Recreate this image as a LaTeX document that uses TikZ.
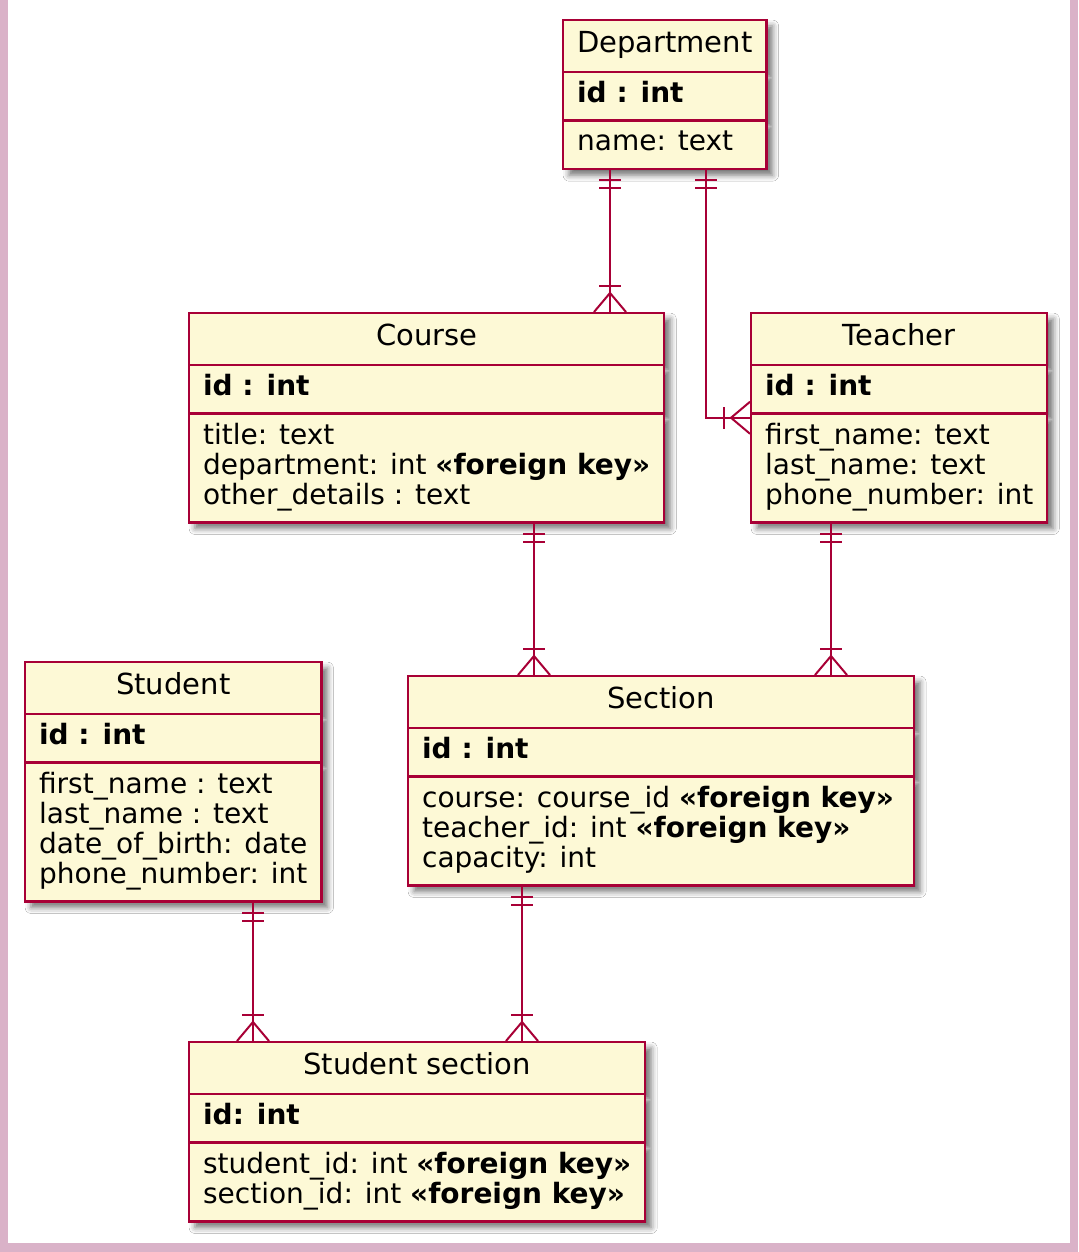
\documentclass[tikz,border=0pt]{standalone}
\usepackage{fontspec}
\setmainfont{DejaVu Sans}
\usetikzlibrary{shapes.multipart,shadows.blur,decorations.markings}

\definecolor{entityfill}{HTML}{FDF9D6}
\definecolor{entityline}{HTML}{A80036}
\definecolor{pageframe}{RGB}{218,178,200}

\newcommand{\entname}[1]{{\fontsize{14.5}{16.5}\selectfont\strut #1}}

\tikzset{
	entity/.style={rectangle split, rectangle split parts=3,
		rectangle split part align={center,left,left},
		draw=entityline, line width=1.1pt, fill=entityfill,
		anchor=north west, align=left, inner xsep=7pt, inner ysep=4.1pt,
		font={\fontsize{14}{15}\selectfont\lineskiplimit=-100pt\relax},
		blur shadow={shadow xshift=3pt, shadow yshift=-3pt, shadow blur radius=3pt, shadow opacity=55}},
	rel/.style={draw=entityline, line width=1pt},
	onlyone/.style={postaction={decorate, decoration={markings,
		mark=at position 5pt with {\draw[rel] (0,-5.5pt) -- (0,5.5pt);},
		mark=at position 9pt with {\draw[rel] (0,-5.5pt) -- (0,5.5pt);}}}},
	onemany/.style={postaction={decorate, decoration={markings,
		mark=at position 1 with {\draw[rel] (-13pt,-5.5pt) -- (-13pt,5.5pt);
			\draw[rel] (0,-8pt) -- (-9.5pt,0) -- (0,8pt);}}}}
}

\begin{document}
\begin{tikzpicture}[x=0.5pt, y=-0.5pt]
	\useasboundingbox (0,0) rectangle (1078,1252);
	\fill[pageframe] (0,0) rectangle (1078,1252);
	\fill[white] (8,0) rectangle (1070,1243);

	% tables
	\node[entity, minimum width=100pt] (department) at (562,19)
		{\entname{Department}
		\nodepart{two}\strut\textbf{id : int}
		\nodepart{three}\strut name: text};
	\node[entity, minimum width=236pt] (course) at (188,312)
		{\entname{Course}
		\nodepart{two}\strut\textbf{id : int}
		\nodepart{three}\strut title: text\\
		\strut department: int \textbf{«foreign key»}\\
		\strut other\_details : text};
	\node[entity, minimum width=148pt] (teacher) at (750,312)
		{\entname{Teacher}
		\nodepart{two}\strut\textbf{id : int}
		\nodepart{three}\strut first\_name: text\\
		\strut last\_name: text\\
		\strut phone\_number: int};
	\node[entity, minimum width=148pt] (student) at (24,661)
		{\entname{Student}
		\nodepart{two}\strut\textbf{id : int}
		\nodepart{three}\strut first\_name : text\\
		\strut last\_name : text\\
		\strut date\_of\_birth: date\\
		\strut phone\_number: int};
	\node[entity, minimum width=253pt] (section) at (407,675)
		{\entname{Section}
		\nodepart{two}\strut\textbf{id : int}
		\nodepart{three}\strut course: course\_id \textbf{«foreign key»}\\
		\strut teacher\_id: int \textbf{«foreign key»}\\
		\strut capacity: int};
	\node[entity, minimum width=227.5pt] (studentsection) at (188,1041)
		{\entname{Student section}
		\nodepart{two}\strut\textbf{id: int}
		\nodepart{three}\strut student\_id: int \textbf{«foreign key»}\\
		\strut section\_id: int \textbf{«foreign key»}};

	% relations
	\draw[rel, onlyone, onemany] (department.south -| 610,0) -- (course.north -| 610,0);
	\draw[rel, onlyone, onemany] (department.south -| 706,0) |- (teacher.west);
	\draw[rel, onlyone, onemany] (course.south -| 534,0) -- (section.north -| 534,0);
	\draw[rel, onlyone, onemany] (teacher.south -| 831,0) -- (section.north -| 831,0);
	\draw[rel, onlyone, onemany] (student.south -| 253,0) -- (studentsection.north -| 253,0);
	\draw[rel, onlyone, onemany] (section.south -| 522,0) -- (studentsection.north -| 522,0);
\end{tikzpicture}
\end{document}
